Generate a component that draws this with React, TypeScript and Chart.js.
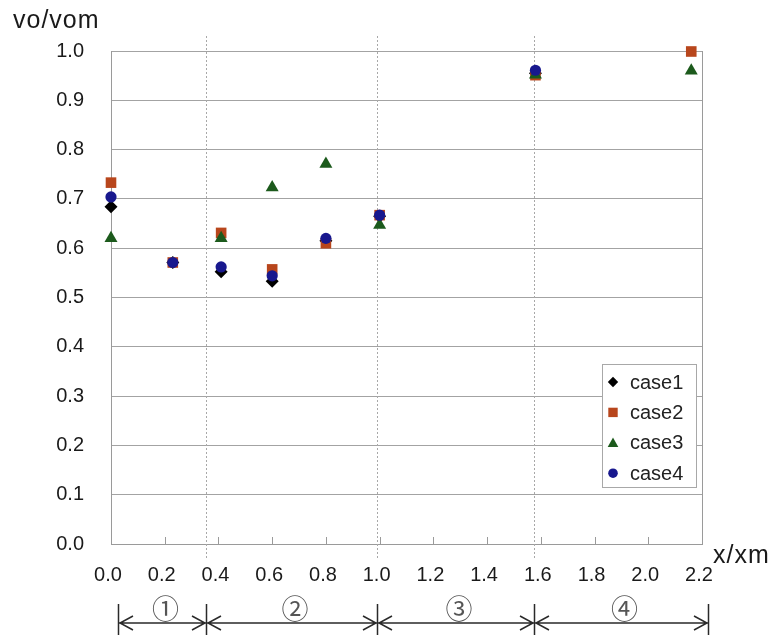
import React, { useEffect, useRef } from 'react';
import { Chart, registerables } from 'chart.js';

Chart.register(...registerables);

// ---- data ----
const xPositions = [0, 0.23, 0.41, 0.6, 0.8, 1.0, 1.58, 2.16];
const case1 = [0.684, 0.571, 0.552, 0.533, 0.615, 0.665, 0.955, null];
const case2 = [0.733, 0.571, 0.631, 0.557, 0.61, 0.667, 0.951, 0.999];
const case3 = [0.62, null, 0.62, 0.723, 0.771, 0.647, 0.952, 0.96];
const case4 = [0.704, 0.571, 0.562, 0.544, 0.62, 0.667, 0.961, null];
const seriesNames = ['case1', 'case2', 'case3', 'case4'];
const seriesColors = ['#000000', '#b8461c', '#1c5a1c', '#18188e'];
const seriesShapes = ['rectRot', 'rect', 'triangle', 'circle'];
const seriesRadius = [6.5, 7.5, 7.5, 5.6];
const yTitle = 'vo/vom';
const xTitle = 'x/xm';
// region boundaries along x (x/xm) and their labels
const boundaries = [0.025, 0.354, 0.99, 1.574, 2.222];
const regionLabels = ['①', '②', '③', '④'];

const FONT = '"Liberation Sans", Arial, sans-serif';

function drawMarker(ctx: CanvasRenderingContext2D, shape: string, x: number, y: number, color: string) {
  ctx.fillStyle = color;
  ctx.beginPath();
  if (shape === 'rectRot') {
    const r = 5.2;
    ctx.moveTo(x - r, y);
    ctx.lineTo(x, y - r);
    ctx.lineTo(x + r, y);
    ctx.lineTo(x, y + r);
    ctx.closePath();
  } else if (shape === 'rect') {
    ctx.rect(x - 4.7, y - 4.7, 9.4, 9.4);
  } else if (shape === 'triangle') {
    ctx.moveTo(x, y - 5.2);
    ctx.lineTo(x + 5.3, y + 4.3);
    ctx.lineTo(x - 5.3, y + 4.3);
    ctx.closePath();
  } else {
    ctx.arc(x, y, 4.8, 0, Math.PI * 2);
  }
  ctx.fill();
}

const annotPlugin = {
  id: 'annot',
  beforeDatasetsDraw(chart: any) {
    const { ctx, chartArea: a } = chart;
    const x = chart.scales.x;
    ctx.save();
    ctx.strokeStyle = '#9a9a9a';
    ctx.lineWidth = 1;
    ctx.beginPath();
    ctx.moveTo(Math.round(a.right) + 0.5, a.top);
    ctx.lineTo(Math.round(a.right) + 0.5, a.bottom);
    x.ticks.forEach((t: any) => {
      const px = Math.round(x.getPixelForValue(t.value)) + 0.5;
      ctx.moveTo(px, a.bottom);
      ctx.lineTo(px, a.bottom - 7);
    });
    ctx.stroke();
    ctx.setLineDash([2, 2]);
    ctx.strokeStyle = '#a8a8a8';
    ctx.beginPath();
    boundaries.slice(1, -1).forEach((b) => {
      const px = Math.round(x.getPixelForValue(b)) + 0.5;
      ctx.moveTo(px, 36);
      ctx.lineTo(px, 560);
    });
    ctx.stroke();
    ctx.restore();
  },
  afterDraw(chart: any) {
    const { ctx } = chart;
    const x = chart.scales.x;
    ctx.save();
    // axis titles
    ctx.fillStyle = '#1a1a1a';
    ctx.font = '25px ' + FONT;
    ctx.textBaseline = 'alphabetic';
    ctx.textAlign = 'left';
    (ctx as any).letterSpacing = '1px';
    ctx.fillText(yTitle, 13, 28);
    ctx.fillText(xTitle, 713, 563);
    (ctx as any).letterSpacing = '0px';

    // legend
    const lx = 602, ly = 364, lw = 94, lh = 123;
    ctx.fillStyle = '#ffffff';
    ctx.fillRect(lx, ly, lw, lh);
    ctx.strokeStyle = '#a8a8a8';
    ctx.lineWidth = 1;
    ctx.strokeRect(lx + 0.5, ly + 0.5, lw, lh);
    ctx.font = '20px ' + FONT;
    ctx.textBaseline = 'middle';
    seriesNames.forEach((name, i) => {
      const cy = 382 + i * 30.4;
      drawMarker(ctx, seriesShapes[i], 613, cy, seriesColors[i]);
      ctx.fillStyle = '#222222';
      ctx.fillText(name, 630, cy + 1);
    });

    // region arrows
    const ay = 623;
    ctx.strokeStyle = '#2a2a2a';
    ctx.lineWidth = 1.5;
    ctx.beginPath();
    const pxs = boundaries.map((b) => Math.round(x.getPixelForValue(b)) + 0.5);
    pxs.forEach((px) => {
      ctx.moveTo(px, 604);
      ctx.lineTo(px, 635);
    });
    for (let i = 0; i < pxs.length - 1; i++) {
      const l = pxs[i] + 1.5, r = pxs[i + 1] - 1.5;
      ctx.moveTo(l, ay);
      ctx.lineTo(r, ay);
      ctx.moveTo(l + 13, ay - 7);
      ctx.lineTo(l, ay);
      ctx.lineTo(l + 13, ay + 7);
      ctx.moveTo(r - 13, ay - 7);
      ctx.lineTo(r, ay);
      ctx.lineTo(r - 13, ay + 7);
    }
    ctx.stroke();
    ctx.fillStyle = '#555555';
    ctx.font = '27px "Noto Sans CJK JP", sans-serif';
    ctx.textAlign = 'center';
    ctx.textBaseline = 'middle';
    for (let i = 0; i < regionLabels.length; i++) {
      ctx.fillText(regionLabels[i], (pxs[i] + pxs[i + 1]) / 2 + 3, 609);
    }
    ctx.restore();
  },
};

export default function App() {
  const ref = useRef<HTMLCanvasElement | null>(null);
  useEffect(() => {
    if (!ref.current) return;
    const all = [case1, case2, case3, case4];
    const datasets = all.map((vals, i) => ({
      label: seriesNames[i],
      data: xPositions
        .map((xv, j) => ({ x: xv, y: vals[j] }))
        .filter((p) => p.y !== null),
      pointStyle: seriesShapes[i] as any,
      pointRadius: seriesRadius[i],
      pointHoverRadius: seriesRadius[i],
      backgroundColor: seriesColors[i],
      borderColor: seriesColors[i],
      borderWidth: 0,
      showLine: false,
      clip: false as any,
      order: 4 - i,
    }));
    const chart = new Chart(ref.current, {
      type: 'scatter',
      data: { datasets },
      plugins: [annotPlugin],
      options: {
        animation: false,
        responsive: false,
        devicePixelRatio: 1,
        layout: { padding: { top: 51, right: 74, left: 0, bottom: 0 } },
        plugins: { legend: { display: false }, tooltip: { enabled: false } },
        scales: {
          x: {
            type: 'linear',
            min: 0,
            max: 2.2,
            afterFit: (s: any) => {
              s.height = 91;
            },
            grid: { display: false, drawTicks: false },
            border: { display: true, color: '#9a9a9a', width: 1 },
            ticks: {
              stepSize: 0.2,
              padding: 19,
              labelOffset: -3,
              color: '#1a1a1a',
              font: { family: FONT, size: 20 },
              callback: (v: any) => Number(v).toFixed(1),
            },
          },
          y: {
            type: 'linear',
            min: 0,
            max: 1,
            afterFit: (s: any) => {
              s.width = 111;
            },
            grid: { color: '#a3a3a3', lineWidth: 1, drawTicks: false },
            border: { display: true, color: '#9a9a9a', width: 1 },
            ticks: {
              stepSize: 0.1,
              padding: 27,
              color: '#1a1a1a',
              font: { family: FONT, size: 20 },
              callback: (v: any) => Number(v).toFixed(1),
            },
          },
        },
      },
    });
    return () => chart.destroy();
  }, []);
  return (
    <div style={{ position: 'absolute', left: 0, top: 0, width: 776, height: 635, background: '#fff' }}>
      <canvas ref={ref} width={776} height={635} style={{ display: 'block' }} />
    </div>
  );
}
